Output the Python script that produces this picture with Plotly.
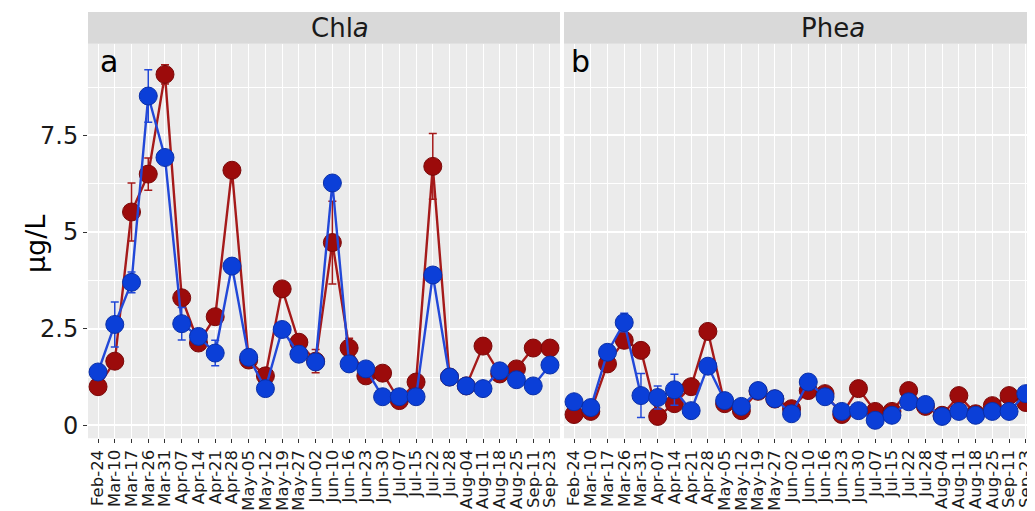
import plotly.graph_objects as go

dates = ["Feb-24", "Mar-10", "Mar-17", "Mar-26", "Mar-31", "Apr-07", "Apr-14",
         "Apr-21", "Apr-28", "May-05", "May-12", "May-19", "May-27", "Jun-02",
         "Jun-10", "Jun-16", "Jun-23", "Jun-30", "Jul-07", "Jul-15", "Jul-22",
         "Jul-28", "Aug-04", "Aug-11", "Aug-18", "Aug-25", "Sep-11", "Sep-23"]

chla_red = [1.00, 1.66, 5.52, 6.50, 9.08, 3.30, 2.13, 2.81, 6.60, 1.69, 1.28, 3.53, 2.15, 1.66,
            4.73, 2.00, 1.28, 1.35, 0.64, 1.12, 6.70, 1.25, 1.02, 2.05, 1.33, 1.46, 2.00, 2.00]
chla_red_err = [0.08, 0.08, 0.75, 0.42, 0.25, 0.08, 0.08, 0.08, 0.08, 0.08, 0.08, 0.08, 0.15, 0.30,
                1.07, 0.25, 0.08, 0.08, 0.08, 0.08, 0.85, 0.08, 0.08, 0.08, 0.08, 0.08, 0.08, 0.08]
chla_blue = [1.38, 2.61, 3.70, 8.52, 6.93, 2.63, 2.30, 1.87, 4.12, 1.76, 0.95, 2.48, 1.84, 1.64,
             6.27, 1.59, 1.46, 0.74, 0.74, 0.74, 3.89, 1.25, 1.02, 0.95, 1.41, 1.18, 1.02, 1.56]
chla_blue_err = [0.08, 0.58, 0.27, 0.68, 0.08, 0.42, 0.08, 0.33, 0.15, 0.08, 0.08, 0.08, 0.20, 0.15,
                 0.08, 0.08, 0.08, 0.08, 0.08, 0.08, 0.08, 0.08, 0.08, 0.08, 0.08, 0.08, 0.08, 0.08]

phea_red = [0.28, 0.36, 1.59, 2.20, 1.94, 0.23, 0.56, 1.00, 2.43, 0.56, 0.38, 0.88, 0.68, 0.43,
            0.90, 0.82, 0.28, 0.95, 0.36, 0.36, 0.90, 0.49, 0.26, 0.77, 0.30, 0.51, 0.77, 0.59]
phea_red_err = [0.06, 0.06, 0.08, 0.08, 0.06, 0.06, 0.15, 0.06, 0.06, 0.06, 0.06, 0.06, 0.06, 0.06,
                0.06, 0.06, 0.06, 0.06, 0.06, 0.06, 0.06, 0.06, 0.06, 0.06, 0.06, 0.06, 0.06, 0.06]
phea_blue = [0.61, 0.46, 1.89, 2.66, 0.77, 0.72, 0.92, 0.38, 1.53, 0.64, 0.49, 0.90, 0.69, 0.30,
             1.12, 0.74, 0.36, 0.38, 0.13, 0.26, 0.61, 0.54, 0.23, 0.36, 0.26, 0.36, 0.36, 0.82]
phea_blue_err = [0.05, 0.05, 0.10, 0.24, 0.57, 0.30, 0.40, 0.08, 0.08, 0.05, 0.05, 0.05, 0.05, 0.05,
                 0.05, 0.05, 0.05, 0.05, 0.05, 0.05, 0.05, 0.05, 0.05, 0.05, 0.05, 0.05, 0.05, 0.05]

y_tickvals = [0, 2.5, 5, 7.5]
y_ticktext = ["0", "2.5", "5", "7.5"]

# page body has an 8px margin; figure fills the rest of the 1035x511 window
OFF = 8
W, H = 1035 - OFF, 511 - OFF
RED, RED_EDGE, RED_LINE = "#9c0b0b", "#7a0808", "#a51a1a"
BLUE, BLUE_EDGE, BLUE_LINE = "#0b3fd8", "#0a2fa8", "#2248d8"
FONT = "DejaVu Sans"


def fx(p):
    return (p - OFF) / W


def fy(p):
    return 1 - (p - OFF) / H


fig = go.Figure()


def add_series(xa, ya, vals, errs, col, edge, lcol, name):
    fig.add_trace(go.Scatter(
        x=dates, y=vals, mode="lines+markers", name=name, showlegend=False,
        xaxis=xa, yaxis=ya,
        line=dict(color=lcol, width=2.4),
        marker=dict(size=18, color=col, line=dict(color=edge, width=1)),
        error_y=dict(type="data", array=errs, visible=True, color=lcol,
                     thickness=1.5, width=4),
    ))


add_series("x", "y", chla_red, chla_red_err, RED, RED_EDGE, RED_LINE, "Chla red")
add_series("x", "y", chla_blue, chla_blue_err, BLUE, BLUE_EDGE, BLUE_LINE, "Chla blue")
add_series("x2", "y2", phea_red, phea_red_err, RED, RED_EDGE, RED_LINE, "Phea red")
add_series("x2", "y2", phea_blue, phea_blue_err, BLUE, BLUE_EDGE, BLUE_LINE, "Phea blue")

xcommon = dict(type="category", categoryorder="array", categoryarray=dates,
               tickmode="array", tickvals=dates, ticktext=dates,
               showgrid=True, gridcolor="white", gridwidth=1.1, zeroline=False,
               showline=False, ticks="outside", ticklen=4, tickcolor="#333333",
               tickangle=-90, tickfont=dict(family=FONT, size=16.5, color="#1a1a1a"))

ydom = [fy(440), fy(44)]
yrange = [-0.335, 9.87]
minor = dict(tickvals=[1.25, 3.75, 6.25, 8.75], showgrid=True, gridcolor="white",
             gridwidth=0.6, ticks="")

fig.update_layout(
    width=W, height=H,
    margin=dict(l=0, r=0, t=0, b=0),
    paper_bgcolor="white", plot_bgcolor="#ebebeb",
    font=dict(family=FONT, color="#1a1a1a"),
    xaxis=dict(domain=[fx(88), fx(560)], range=[-0.6, 27.6], anchor="y", **xcommon),
    xaxis2=dict(domain=[fx(564), 1.0], range=[-0.6, 27.55], anchor="y2", **xcommon),
    yaxis=dict(domain=ydom, range=yrange, tickvals=y_tickvals, ticktext=y_ticktext,
               showgrid=True, gridcolor="white", gridwidth=1.5, zeroline=False,
               ticks="outside", ticklen=4, tickcolor="#333333",
               tickfont=dict(family=FONT, size=24, color="#1a1a1a"),
               minor=minor, anchor="x"),
    yaxis2=dict(domain=ydom, range=yrange, tickvals=y_tickvals, matches="y",
                showgrid=True, gridcolor="white", gridwidth=1.5, zeroline=False,
                showticklabels=False, ticks="", minor=minor, anchor="x2"),
    shapes=[
        dict(type="rect", xref="paper", yref="paper", x0=fx(88), x1=fx(560),
             y0=fy(44), y1=fy(12), fillcolor="#d9d9d9", line=dict(width=0), layer="below"),
        dict(type="rect", xref="paper", yref="paper", x0=fx(564), x1=1.0,
             y0=fy(44), y1=fy(12), fillcolor="#d9d9d9", line=dict(width=0), layer="below"),
    ],
    annotations=[
        dict(text="Chl<i>a</i>", xref="paper", yref="paper", x=fx(340), y=fy(28),
             showarrow=False, xanchor="center", yanchor="middle",
             font=dict(family=FONT, size=26, color="#1a1a1a")),
        dict(text="Phe<i>a</i>", xref="paper", yref="paper", x=fx(833), y=fy(28),
             showarrow=False, xanchor="center", yanchor="middle",
             font=dict(family=FONT, size=26, color="#1a1a1a")),
        dict(text="a", xref="paper", yref="paper", x=fx(98), y=fy(62),
             showarrow=False, xanchor="left", yanchor="middle",
             font=dict(family=FONT, size=30, color="black")),
        dict(text="b", xref="paper", yref="paper", x=fx(569), y=fy(62),
             showarrow=False, xanchor="left", yanchor="middle",
             font=dict(family=FONT, size=30, color="black")),
        dict(text="µg/L", xref="paper", yref="paper", x=fx(35), y=fy(245),
             showarrow=False, textangle=-90, xanchor="center", yanchor="middle",
             font=dict(family=FONT, size=27, color="black")),
    ],
)

fig.write_html("out.html")
